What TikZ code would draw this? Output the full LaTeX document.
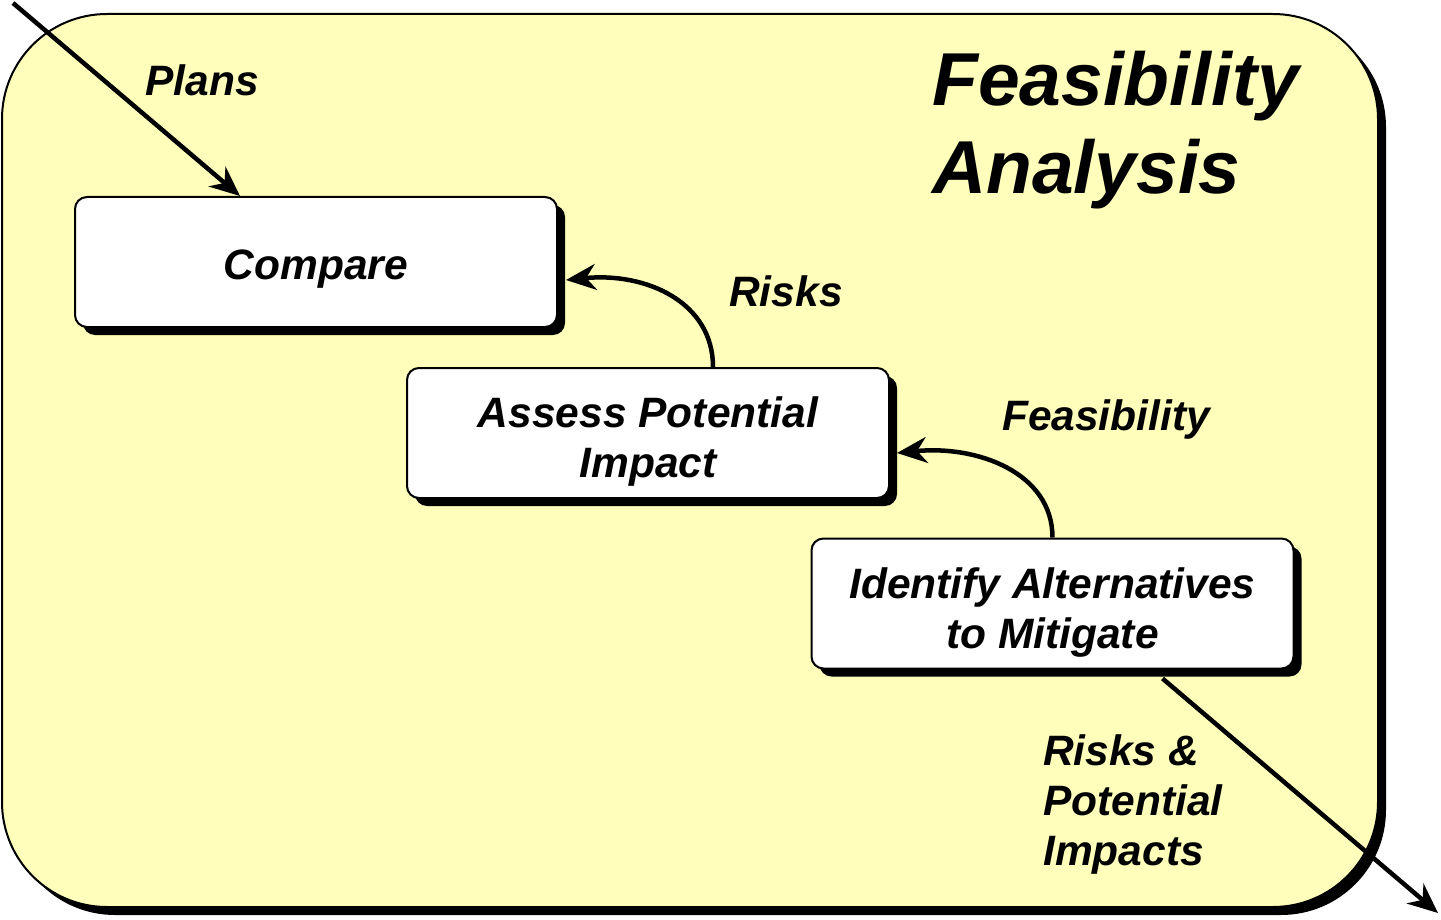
\documentclass[tikz,border=0pt]{standalone}
\usepackage{fontspec}
\setmainfont{Liberation Sans}
\usetikzlibrary{arrows.meta,shadows,positioning}
\definecolor{padyellow}{RGB}{255,255,187}
\newcommand{\stagefont}{\fontsize{42.5}{50}\selectfont\bfseries\itshape}
\newcommand{\headfont}{\fontsize{75}{88}\selectfont\bfseries\itshape}
\tikzset{
  blackshadow/.style={drop shadow={shadow xshift=8pt,shadow yshift=-8pt,fill=black,opacity=1}},
  stage/.style={draw=black,line width=2pt,fill=white,rounded corners=12pt,minimum width=482pt,
    minimum height=130pt,inner sep=0pt,align=center,font=\stagefont,text height=44pt,blackshadow},
  tallstage/.style={stage,text height=98.5pt},
  flow/.style={line width=4.5pt,-{Stealth[length=30pt,width=26pt]}},
  tag/.style={font=\stagefont,inner sep=0pt}
}

\begin{document}
\begin{tikzpicture}[x=1pt,y=-1pt]
\useasboundingbox (0,0) rectangle (1441,920);

\node[draw=black,line width=2pt,fill=padyellow,rounded corners=105pt,minimum width=1376pt,
  minimum height=893pt,blackshadow] (frame) at (690,460.5) {};

\node[anchor=north west,align=left,inner sep=0pt,font=\headfont] (head) at (932,51) {Feasibility\\Analysis};

\node[stage] (cmp) at (316,262) {Compare};
\node[tallstage] (imp) at (648,433) {Assess Potential\\Impact};
\node[tallstage] (alt) at (1052.5,603.5) {Identify Alternatives\\to Mitigate};

\coordinate (plansin) at (13,3);
\coordinate (riskout) at (1438,913);

\node[tag,anchor=base] (l0) at (202,96) {Plans};
\node[tag,anchor=base] (l1) at (786,306) {Risks};
\node[tag,anchor=base] (l2) at (1106,430) {Feasibility};
\node[tag,anchor=north west,align=left] (l3) at (1043,734) {Risks \&\\Potential\\Impacts};

\draw[flow] (plansin) -- ([shift={(-76,0)}]cmp.north);
\draw[flow] ([shift={(65,0)}]imp.north) .. controls +(0,-65) and +(80,-8) .. ([shift={(8,18)}]cmp.east);
\draw[flow] ([shift={(0,0)}]alt.north) .. controls +(0,-65) and +(80,-8) .. ([shift={(7,20)}]imp.east);
\draw[flow] ([shift={(110,9)}]alt.south) -- (riskout);
\end{tikzpicture}
\end{document}
